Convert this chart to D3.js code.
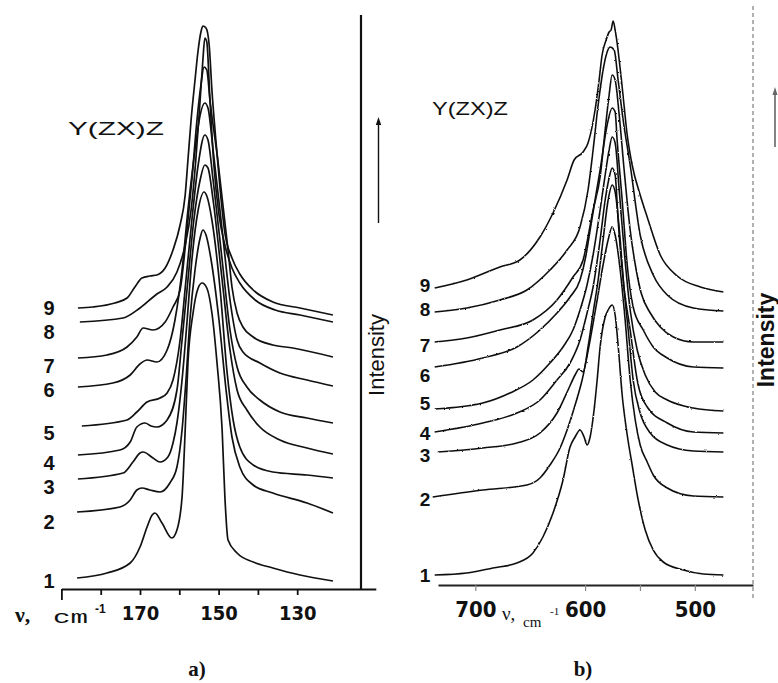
<!DOCTYPE html>
<html>
<head>
<meta charset="utf-8">
<script src="https://cdn.jsdelivr.net/npm/d3@7"></script>
<style>
  html, body { margin: 0; padding: 0; background: #fff; }
  svg { display: block; }
</style>
</head>
<body>
<svg id="chart" width="778" height="683"></svg>
<script>
// Raman spectra in Y(ZX)Z geometry, two spectral ranges, nine samples each.
// Each spectrum: [wavenumber (cm^-1), intensity (arb. units, offset stack)].

const curveLabels = ["1", "2", "3", "4", "5", "6", "7", "8", "9"];

// ---- panel a: low-frequency band ----
const specA1 = [[186.0,2.2],[178.4,3.2],[172.5,5.2],[170.0,8.4],[168.2,12.4],[166.9,14.8],[166.2,15.2],[164.4,13.2],[161.9,10.2],[160.6,11.8],[159.3,18.4],[158.5,31.8],[157.8,45.2],[156.5,55.2],[155.2,60.2],[154.2,61.2],[153.0,60.2],[151.7,55.2],[150.4,45.2],[149.1,31.8],[148.4,18.4],[147.6,9.8],[145.3,7.2],[141.2,5.4],[136.2,4.2],[129.3,2.8],[120.9,1.6]];
const specA2 = [[186.0,15.4],[175.1,16.4],[172.5,17.8],[170.8,19.8],[169.5,20.2],[167.5,19.8],[164.9,19.4],[162.4,21.2],[160.6,24.4],[159.3,31.8],[158.3,41.8],[157.3,53.8],[156.0,63.8],[154.7,70.2],[154.0,71.8],[153.2,70.8],[151.9,65.8],[149.9,53.8],[148.1,39.8],[146.6,30.4],[144.6,24.4],[141.2,20.8],[136.2,19.2],[127.5,17.2],[120.9,15.2]];
const specA3 = [[185.8,22.0],[174.3,23.2],[171.8,25.4],[170.0,27.2],[169.2,27.4],[166.7,26.2],[164.9,25.4],[162.9,26.4],[161.6,29.2],[160.6,33.2],[159.3,41.8],[158.0,53.8],[156.8,65.8],[155.2,75.8],[153.7,79.4],[153.0,78.6],[151.7,73.8],[149.6,59.8],[147.9,43.8],[146.3,33.8],[144.6,28.4],[141.2,24.8],[136.2,23.4],[127.5,22.8],[120.9,22.2]];
const specA4 = [[185.8,26.8],[175.1,27.8],[172.5,29.4],[170.8,32.4],[168.7,33.2],[167.2,32.6],[165.7,32.4],[163.1,33.8],[160.6,39.8],[159.3,49.8],[157.8,61.8],[156.3,73.8],[154.7,81.8],[153.5,84.8],[152.7,84.2],[151.4,77.8],[149.1,61.8],[147.1,47.8],[145.3,39.8],[142.8,35.8],[139.5,32.4],[134.4,29.8],[127.5,28.2],[120.9,27.0]];
const specA5 = [[184.8,32.6],[173.3,33.8],[170.8,35.4],[168.2,37.4],[164.9,38.2],[163.1,39.2],[161.6,41.8],[159.8,49.8],[158.3,61.8],[156.8,73.8],[155.2,84.8],[153.5,90.8],[152.7,89.8],[151.4,81.8],[149.1,65.8],[147.1,51.8],[145.3,44.4],[142.8,40.4],[139.5,37.8],[134.4,35.4],[127.5,34.2],[120.9,33.2]];
const specA6 = [[185.8,40.4],[176.9,41.2],[172.5,42.8],[170.0,45.0],[168.2,45.8],[165.7,45.4],[163.1,47.8],[161.1,53.8],[159.3,63.8],[157.8,75.8],[156.0,87.8],[154.7,94.8],[153.5,97.2],[152.7,96.2],[151.4,87.8],[149.1,71.8],[147.1,57.8],[145.3,49.8],[143.8,47.4],[139.5,45.2],[134.4,43.2],[127.5,41.8],[120.9,40.6]];
const specA7 = [[185.8,46.2],[178.4,46.8],[173.3,48.4],[170.8,50.4],[169.2,52.2],[166.7,51.8],[163.6,53.4],[161.6,56.4],[159.8,59.8],[158.3,69.8],[156.8,81.8],[155.5,93.8],[154.5,100.8],[153.7,104.4],[153.0,103.8],[152.2,97.8],[150.2,85.8],[147.6,67.8],[146.6,60.4],[145.3,55.2],[143.8,52.4],[141.2,50.4],[136.2,48.8],[131.1,48.2],[120.9,46.4]];
const specA8 = [[185.3,53.4],[174.3,54.2],[170.0,56.2],[165.7,59.0],[163.1,60.4],[160.6,63.4],[158.5,68.8],[157.0,75.8],[155.8,85.8],[154.7,97.8],[154.0,105.8],[153.5,110.2],[153.0,109.4],[152.2,97.8],[151.2,84.8],[149.9,74.8],[148.4,68.8],[146.6,64.2],[144.6,61.2],[140.7,57.8],[135.6,55.8],[129.3,54.8],[120.9,53.4]];
const specA9 = [[185.8,56.2],[182.0,56.4],[176.4,57.2],[173.3,58.2],[171.3,60.4],[169.5,62.2],[167.5,62.6],[165.7,62.8],[163.6,64.2],[161.6,67.8],[159.8,72.8],[158.5,78.8],[157.8,85.8],[157.0,93.8],[156.0,101.8],[155.2,107.8],[154.5,111.4],[154.0,112.6],[153.2,112.2],[152.4,108.8],[151.7,99.8],[150.7,89.8],[149.6,79.8],[148.4,71.2],[146.6,66.2],[144.6,63.0],[141.2,59.8],[136.2,57.4],[129.3,56.2],[120.9,54.8]];

// ---- panel b: high-frequency band ----
const specB1 = [[737.0,2.0],[707.8,2.4],[684.0,3.4],[662.1,4.4],[647.5,6.4],[638.4,9.6],[629.2,14.4],[620.1,21.0],[613.7,27.6],[609.1,29.6],[604.6,31.0],[600.9,29.6],[598.2,28.0],[595.4,29.6],[591.8,35.0],[589.0,41.0],[586.3,47.6],[581.7,53.6],[579.0,55.0],[575.3,56.0],[572.6,54.0],[569.9,48.0],[566.2,38.0],[561.6,30.0],[557.1,24.0],[551.6,17.0],[545.2,11.0],[537.9,7.0],[528.8,4.6],[510.5,3.0],[492.2,2.2],[474.0,2.0]];
const specB2 = [[738.8,17.6],[693.2,19.0],[653.0,20.0],[641.1,21.4],[632.0,24.0],[622.8,27.4],[616.4,31.0],[609.1,36.0],[602.7,41.0],[595.4,49.0],[589.0,57.0],[583.6,64.0],[579.0,69.0],[575.3,71.6],[572.6,70.0],[568.0,63.0],[563.5,53.0],[558.9,41.0],[554.3,33.0],[549.8,28.0],[543.4,24.6],[537.9,22.0],[525.1,19.4],[501.4,17.8],[474.0,17.6]];
const specB3 = [[734.2,26.6],[693.2,27.4],[662.1,28.4],[641.1,30.4],[625.6,34.4],[615.5,39.0],[609.1,42.0],[605.5,43.2],[601.8,42.6],[597.3,47.6],[592.7,54.4],[588.1,61.0],[583.6,69.0],[579.0,77.0],[575.3,80.0],[572.6,78.6],[568.0,69.0],[564.4,59.0],[560.7,51.0],[556.2,41.0],[549.8,34.4],[540.6,30.4],[525.1,28.0],[501.4,26.8],[474.0,26.6]];
const specB4 = [[737.0,30.6],[693.2,32.4],[662.1,34.4],[641.1,37.0],[625.6,41.0],[613.7,44.4],[604.6,49.0],[598.2,54.4],[592.7,59.6],[586.3,69.0],[581.7,77.0],[578.1,81.4],[575.3,83.4],[572.6,82.0],[569.9,73.0],[565.3,61.0],[558.9,51.0],[552.5,41.0],[543.4,35.6],[525.1,32.4],[501.4,30.6],[474.0,30.4]];
const specB5 = [[737.0,35.2],[693.2,36.4],[668.5,38.4],[647.5,41.0],[632.0,44.4],[620.1,47.6],[611.0,51.0],[604.6,55.0],[598.2,60.0],[592.7,66.0],[586.3,75.0],[581.7,82.0],[578.1,87.0],[575.3,89.6],[572.6,88.4],[568.9,79.0],[564.4,67.0],[558.9,55.0],[552.5,47.0],[545.2,42.0],[536.1,38.6],[525.1,37.0],[501.4,35.4],[474.0,34.8]];
const specB6 = [[737.0,43.6],[693.2,45.4],[662.1,47.6],[641.1,51.0],[625.6,54.4],[613.7,57.6],[604.6,61.0],[599.1,66.0],[595.4,71.0],[590.9,77.0],[586.3,83.0],[579.9,92.0],[575.3,95.4],[572.6,94.6],[570.8,89.0],[566.2,77.0],[561.6,64.0],[556.2,55.6],[547.0,51.0],[537.9,47.6],[525.1,45.4],[501.4,43.6],[474.0,43.4]];
const specB7 = [[737.0,48.6],[707.8,49.4],[677.6,51.0],[647.5,53.0],[625.6,57.0],[611.0,61.6],[601.8,65.0],[592.7,75.0],[586.3,81.6],[581.7,91.0],[578.1,98.0],[575.3,102.0],[572.6,101.0],[568.9,94.0],[564.4,83.0],[558.9,71.0],[553.4,63.0],[548.9,58.4],[540.6,54.4],[531.5,51.6],[519.6,49.6],[501.4,48.6],[474.0,48.6]];
const specB8 = [[737.0,54.6],[707.8,55.4],[677.6,57.0],[653.0,59.0],[632.0,63.0],[616.4,67.0],[604.6,71.6],[597.3,79.0],[592.7,87.0],[588.1,96.0],[583.6,103.0],[579.9,106.6],[577.2,107.6],[573.5,107.0],[569.9,101.0],[565.3,93.0],[558.9,84.0],[549.8,70.0],[537.9,62.0],[525.1,58.0],[501.4,55.4],[474.0,54.8]];
const specB9 = [[737.0,59.4],[707.8,61.0],[677.6,63.6],[659.4,65.0],[641.1,69.6],[629.2,74.4],[616.4,81.0],[610.0,85.0],[601.8,86.6],[597.3,88.4],[590.9,95.0],[587.2,101.0],[584.5,106.0],[580.8,109.0],[578.1,110.6],[576.3,111.0],[574.4,112.8],[572.6,111.0],[570.8,108.4],[566.2,99.6],[561.6,90.0],[557.1,84.0],[549.8,78.0],[543.4,73.6],[531.5,66.0],[516.0,61.8],[495.0,59.6],[474.0,58.6]];

const ticksA = [190, 180, 170, 160, 150, 140, 130];
const tickLabelsA = [170, 150, 130];
const ticksB = [700, 600, 550, 500];
const tickLabelsB = [700, 600, 500];

const spectraA = [specA1, specA2, specA3, specA4, specA5, specA6, specA7, specA8, specA9];
const spectraB = [specB1, specB2, specB3, specB4, specB5, specB6, specB7, specB8, specB9];

// ---------------- drawing ----------------
const svg = d3.select("#chart");
svg.append("rect").attr("width", 778).attr("height", 683).attr("fill", "#fff");

const SANS = "'Liberation Sans', Arial, Helvetica, sans-serif";
const NARROW = "'Liberation Sans Narrow', 'Arial Narrow', 'DejaVu Sans Condensed', 'Liberation Sans', sans-serif";
const SERIF = "'Liberation Serif', 'Times New Roman', serif";
const MONO = "'Liberation Mono', 'Courier New', monospace";

// slight roughness for the digitised traces of panel b
const defs = svg.append("defs");
const f = defs.append("filter").attr("id", "trace").attr("x", "-5%").attr("y", "-5%").attr("width", "110%").attr("height", "110%");
f.append("feTurbulence").attr("type", "fractalNoise").attr("baseFrequency", 0.45).attr("numOctaves", 1).attr("seed", 3).attr("result", "n");
f.append("feDisplacementMap").attr("in", "SourceGraphic").attr("in2", "n").attr("scale", 2.2).attr("xChannelSelector", "R").attr("yChannelSelector", "G");

// ===== panel a =====
const xA = d3.scaleLinear().domain([190, 110]).range([61.4, 375.8]);
const yA = d3.scaleLinear().domain([0, 115]).range([589, 14]);

const lineA = d3.line().x(d => xA(d[0])).y(d => yA(d[1])).curve(d3.curveMonotoneX);
const gA = svg.append("g");
gA.selectAll("path.spec").data(spectraA).join("path")
  .attr("class", "spec")
  .attr("d", lineA)
  .attr("fill", "none").attr("stroke", "#111").attr("stroke-width", 1.7)
  .attr("stroke-linejoin", "round");

// axis a
const axA = gA.append("g").attr("transform", `translate(0,${yA(0)})`)
  .call(d3.axisBottom(xA).tickValues(ticksA).tickSize(6).tickSizeOuter(0)
    .tickFormat(v => tickLabelsA.includes(v) ? String(v) : ""));
axA.select(".domain").attr("stroke", "#111").attr("stroke-width", 2.2);
axA.selectAll(".tick line").attr("stroke", "#111").attr("stroke-width", 1.8)
  .attr("y2", v => v === 190 ? 11 : 6);
axA.selectAll(".tick text")
  .attr("y", 31).attr("dy", 0)
  .attr("font-family", NARROW).attr("font-weight", "bold").attr("font-size", 20).attr("fill", "#111");

// right-hand intensity frame, arrow and title
gA.append("line").attr("x1", 361).attr("x2", 361).attr("y1", yA(115) + 1).attr("y2", yA(0))
  .attr("stroke", "#111").attr("stroke-width", 2.2);
gA.append("line").attr("x1", 378.5).attr("x2", 378.5).attr("y1", 223).attr("y2", 123)
  .attr("stroke", "#111").attr("stroke-width", 1.4);
gA.append("path").attr("d", "M378.5,117 L375.8,125 L381.2,125 Z").attr("fill", "#111");
gA.append("text").attr("transform", "translate(384,355) rotate(-90)")
  .attr("text-anchor", "middle").attr("font-family", SANS).attr("font-size", 22).attr("fill", "#111")
  .text("Intensity");

gA.append("text").attr("x", 68).attr("y", 135)
  .attr("font-family", SANS).attr("font-size", 18).attr("fill", "#111")
  .attr("textLength", 96).attr("lengthAdjust", "spacingAndGlyphs")
  .text("Y(ZX)Z");

// curve numbers, next to the start of each trace
const dyA = [3, 10, 8, 8, 7, 3, 8, 10, 0];
gA.selectAll("text.num").data(spectraA).join("text")
  .attr("class", "num")
  .attr("x", 49).attr("y", (d, i) => yA(d[0][1]) + dyA[i])
  .attr("dominant-baseline", "central").attr("text-anchor", "middle")
  .attr("font-family", SANS).attr("font-weight", "bold").attr("font-size", 20).attr("fill", "#111")
  .text((d, i) => curveLabels[i]);

// axis title a
const tA = gA.append("text").attr("y", 622).attr("fill", "#111");
tA.append("tspan").attr("x", 15).attr("font-family", SERIF).attr("font-weight", "bold").attr("font-size", 22).text("ν,");
tA.append("tspan").attr("x", 53).attr("y", 623).attr("font-family", MONO).attr("font-size", 19)
  .attr("textLength", 35).attr("lengthAdjust", "spacingAndGlyphs").text("cm");
tA.append("tspan").attr("x", 95).attr("y", 613).attr("font-family", SANS).attr("font-weight", "bold").attr("font-size", 12).text("-1");

gA.append("text").attr("x", 197).attr("y", 676).attr("text-anchor", "middle")
  .attr("font-family", SERIF).attr("font-weight", "bold").attr("font-size", 21).attr("fill", "#111").text("a)");

// ===== panel b =====
const xB = d3.scaleLinear().domain([734, 447]).range([438, 753]);
const yB = d3.scaleLinear().domain([0, 115]).range([585, 10]);

const lineB = d3.line().x(d => xB(d[0])).y(d => yB(d[1])).curve(d3.curveMonotoneX);
const gB = svg.append("g");
gB.append("g").attr("filter", "url(#trace)")
  .selectAll("path.spec").data(spectraB).join("path")
  .attr("class", "spec")
  .attr("d", lineB)
  .attr("fill", "none").attr("stroke", "#111").attr("stroke-width", 1.6)
  .attr("stroke-linejoin", "round");

const axB = gB.append("g").attr("transform", `translate(0,${yB(0)})`)
  .call(d3.axisBottom(xB).tickValues(ticksB).tickSize(6).tickSizeOuter(0)
    .tickFormat(v => tickLabelsB.includes(v) ? String(v) : ""));
axB.select(".domain").attr("stroke", "#222").attr("stroke-width", 1.8);
axB.selectAll(".tick line").attr("stroke", "#888").attr("stroke-width", 1.2);
axB.selectAll(".tick text")
  .attr("y", 32).attr("dy", 0)
  .attr("font-family", NARROW).attr("font-weight", "bold").attr("font-size", 22).attr("fill", "#111");

// dotted intensity frame, arrow and title
gB.append("line").attr("x1", 753).attr("x2", 753).attr("y1", 6).attr("y2", 598)
  .attr("stroke", "#888").attr("stroke-width", 1.3).attr("stroke-dasharray", "4,3");
gB.append("line").attr("x1", 775).attr("x2", 775).attr("y1", 147).attr("y2", 93)
  .attr("stroke", "#777").attr("stroke-width", 1.8);
gB.append("path").attr("d", "M775,87 L772.5,95 L777.5,95 Z").attr("fill", "#666");
gB.append("text").attr("transform", "translate(774,340) rotate(-90)")
  .attr("text-anchor", "middle").attr("font-family", SANS).attr("font-weight", "bold").attr("font-size", 23).attr("fill", "#111")
  .text("Intensity");

gB.append("text").attr("x", 432).attr("y", 115)
  .attr("font-family", SANS).attr("font-size", 18).attr("fill", "#111")
  .attr("textLength", 76).attr("lengthAdjust", "spacingAndGlyphs")
  .text("Y(ZX)Z");

const dyB = [0, 2, 3, 1, -6, 8, 3, -3, -3];
gB.selectAll("text.num").data(spectraB).join("text")
  .attr("class", "num")
  .attr("x", 425).attr("y", (d, i) => yB(d[0][1]) + dyB[i])
  .attr("dominant-baseline", "central").attr("text-anchor", "middle")
  .attr("font-family", SANS).attr("font-weight", "bold").attr("font-size", 19).attr("fill", "#111")
  .text((d, i) => curveLabels[i]);

const tB = gB.append("text").attr("y", 620).attr("fill", "#111");
tB.append("tspan").attr("x", 502).attr("font-family", SERIF).attr("font-size", 19).text("ν,");
tB.append("tspan").attr("x", 523).attr("y", 627).attr("font-family", SERIF).attr("font-size", 15).text("cm");
tB.append("tspan").attr("x", 550).attr("y", 615).attr("font-family", SERIF).attr("font-size", 11).text("-1");

gB.append("text").attr("x", 583).attr("y", 676).attr("text-anchor", "middle")
  .attr("font-family", SERIF).attr("font-weight", "bold").attr("font-size", 21).attr("fill", "#111").text("b)");
</script>
</body>
</html>
